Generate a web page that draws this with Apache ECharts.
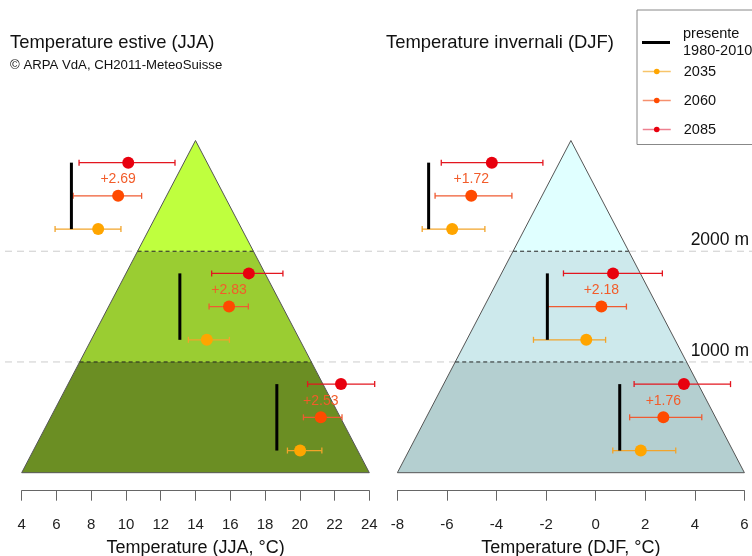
<!DOCTYPE html>
<html><head><meta charset="utf-8">
<script src="https://cdn.jsdelivr.net/npm/echarts@6/dist/echarts.min.js"></script>
<style>html,body{margin:0;padding:0;background:#fff}#c{width:752px;height:556px}</style>
</head><body><div id="c"></div>
<script>
// ---------- data (index 0 = 0-1000 m band, 1 = 1000-2000 m, 2 = 2000-3000 m) ----------
const bandBreaks = [0, 1000, 2000, 3000];
const refElevations = [1000, 2000];
const refLabels = ['1000 m', '2000 m'];
const elev2035 = [200, 1200, 2200];
const elev2060 = [500, 1500, 2500];
const elev2085 = [800, 1800, 2800];
const elevDelta = [650, 1650, 2650];

// Summer (JJA)
const axisJJA = [4, 24];
const apexJJA = 14;
const presenteJJA = [18.68, 13.10, 6.86];
const mean2035JJA = [20.02, 14.65, 8.40];
const lo2035JJA   = [19.29, 13.59, 5.92];
const hi2035JJA   = [21.27, 15.95, 9.71];
const mean2060JJA = [21.21, 15.93, 9.55];
const lo2060JJA   = [20.21, 14.78, 6.96];
const hi2060JJA   = [22.43, 17.04, 10.90];
const mean2085JJA = [22.37, 17.07, 10.13];
const lo2085JJA   = [20.45, 14.93, 7.30];
const hi2085JJA   = [24.31, 19.03, 12.82];
const deltaJJA = ['+2.53', '+2.83', '+2.69'];

// Winter (DJF)
const axisDJF = [-8, 6];
const apexDJF = -1;
const presenteDJF = [0.97, -1.95, -6.74];
const mean2035DJF = [1.82, -0.38, -5.79];
const lo2035DJF   = [0.69, -2.51, -7.00];
const hi2035DJF   = [3.23, 0.40, -4.47];
const mean2060DJF = [2.73, 0.23, -5.02];
const lo2060DJF   = [1.37, -1.93, -6.48];
const hi2060DJF   = [4.28, 1.24, -3.38];
const mean2085DJF = [3.56, 0.70, -4.19];
const lo2085DJF   = [1.55, -1.30, -6.23];
const hi2085DJF   = [5.44, 2.69, -2.13];
const deltaDJF = ['+1.76', '+2.18', '+1.72'];

const legendNames = ['presente', '2035', '2060', '2085'];

// ---------- styles ----------
const FONT = 'Liberation Sans, Arial, Helvetica, sans-serif';
const colorsJJA = ['#6b8e23', '#9acd32', '#bfff3e'];
const colorsDJF = ['#b4cfd0', '#cde9ec', '#e0ffff'];
const dot = {'2035': '#ffa500', '2060': '#ff4a00', '2085': '#e8000e'};
const bar = {'2035': '#f2a42a', '2060': '#ef5b32', '2085': '#e3161f'};
const legLine = {'2035': '#f7c46a', '2060': '#f6906e', '2085': '#ee8090'};

function mountain(gi, base, apex, colors) {
  return {
    type: 'custom', xAxisIndex: gi, yAxisIndex: gi, z: 2, silent: true, clip: false,
    data: [[0], [1], [2]],
    renderItem(params, api) {
      const i = params.dataIndex;
      const top = bandBreaks[bandBreaks.length - 1];
      const xl = e => base[0] + (apex - base[0]) * e / top;
      const xr = e => base[1] - (base[1] - apex) * e / top;
      const e0 = bandBreaks[i], e1 = bandBreaks[i + 1];
      const p = [[xl(e0), e0], [xr(e0), e0], [xr(e1), e1], [xl(e1), e1]].map(q => api.coord(q));
      const ch = [
        {type: 'polygon', shape: {points: p}, style: {fill: colors[i], stroke: null}},
        {type: 'line', shape: {x1: p[0][0], y1: p[0][1], x2: p[3][0], y2: p[3][1]}, style: {stroke: '#555', lineWidth: 1}},
        {type: 'line', shape: {x1: p[1][0], y1: p[1][1], x2: p[2][0], y2: p[2][1]}, style: {stroke: '#555', lineWidth: 1}}
      ];
      if (i === 0) {
        ch.push({type: 'line', shape: {x1: p[0][0], y1: p[0][1], x2: p[1][0], y2: p[1][1]}, style: {stroke: '#555', lineWidth: 1}});
      } else {
        ch.push({type: 'line', shape: {x1: p[0][0], y1: p[0][1], x2: p[1][0], y2: p[1][1]}, style: {stroke: '#222', lineWidth: 1, lineDash: [4, 3]}});
      }
      return {type: 'group', children: ch};
    }
  };
}

function errorBars(gi, key, mean, lo, hi, elev) {
  return {
    type: 'custom', xAxisIndex: gi, yAxisIndex: gi, z: 3, silent: true, clip: false,
    data: mean.map((m, i) => [m, elev[i], lo[i], hi[i]]),
    encode: {x: [0, 2, 3], y: 1},
    renderItem(params, api) {
      const e = api.value(1);
      const a = api.coord([api.value(2), e]), b = api.coord([api.value(3), e]);
      const h = 3, st = {stroke: bar[key], lineWidth: 1.3};
      return {type: 'group', children: [
        {type: 'line', shape: {x1: a[0], y1: a[1], x2: b[0], y2: b[1]}, style: st},
        {type: 'line', shape: {x1: a[0], y1: a[1] - h, x2: a[0], y2: a[1] + h}, style: st},
        {type: 'line', shape: {x1: b[0], y1: b[1] - h, x2: b[0], y2: b[1] + h}, style: st}
      ]};
    }
  };
}

function points(gi, key, mean, elev) {
  return {
    type: 'line', name: key, xAxisIndex: gi, yAxisIndex: gi, z: 5, clip: false,
    data: mean.map((m, i) => [m, elev[i]]),
    symbol: 'circle', symbolSize: 12, showSymbol: true, showAllSymbol: true,
    lineStyle: {opacity: 0, width: 0},
    itemStyle: {color: dot[key]}, silent: true
  };
}

function presente(gi, pres) {
  return {
    type: 'custom', name: 'presente', xAxisIndex: gi, yAxisIndex: gi, z: 4, silent: true, clip: false,
    data: pres.map((p, i) => [p, elev2035[i], elev2085[i]]),
    encode: {x: 0, y: [1, 2]},
    renderItem(params, api) {
      const a = api.coord([api.value(0), api.value(1)]), b = api.coord([api.value(0), api.value(2)]);
      return {type: 'line', shape: {x1: a[0], y1: a[1], x2: b[0], y2: b[1]}, style: {stroke: '#000', lineWidth: 3}};
    }
  };
}

function deltas(gi, mean, labels) {
  return {
    type: 'custom', xAxisIndex: gi, yAxisIndex: gi, z: 6, silent: true, clip: false,
    data: mean.map((m, i) => [m, elevDelta[i]]),
    renderItem(params, api) {
      const c = api.coord([api.value(0), api.value(1)]);
      return {type: 'text', x: c[0], y: c[1], style: {text: labels[params.dataIndex], align: 'center', verticalAlign: 'middle', fontSize: 14, fontFamily: FONT, fill: '#f25c2a'}};
    }
  };
}

const refLines = {
  type: 'custom', xAxisIndex: 0, yAxisIndex: 0, z: 1, silent: true, clip: false,
  data: refElevations.map(e => [axisJJA[0], e]),
  renderItem(params, api) {
    const c = api.coord([api.value(0), api.value(1)]);
    const w = api.getWidth();
    return {type: 'group', children: [
      {type: 'line', shape: {x1: 5, y1: c[1], x2: w, y2: c[1]}, style: {stroke: '#cccccc', lineWidth: 1, lineDash: [7, 5]}},
      {type: 'text', x: w - 3, y: c[1] - 11, style: {text: refLabels[params.dataIndex], align: 'right', verticalAlign: 'middle', fontSize: 17.5, fontFamily: FONT, fill: '#111'}}
    ]};
  }
};

function xAxis(gi, range, name) {
  return {
    gridIndex: gi, type: 'value', min: range[0], max: range[1], interval: 2, offset: 18, position: 'bottom',
    name: name, nameLocation: 'middle', nameGap: 48,
    nameTextStyle: {fontSize: 18, color: '#111', fontFamily: FONT},
    axisLine: {show: true, onZero: false, lineStyle: {color: '#666', width: 1}},
    axisTick: {show: true, length: 10, lineStyle: {color: '#666'}},
    axisLabel: {fontSize: 15, color: '#222', margin: 27, fontFamily: FONT},
    splitLine: {show: false}
  };
}

// legend: one framed component for "presente", separate ones for the scenarios
const legendBase = {
  orient: 'vertical', itemWidth: 28, itemHeight: 7, selectedMode: false,
  textStyle: {
    color: '#111', fontSize: 14.5, fontFamily: FONT,
    rich: {
      a: {fontSize: 14.5, lineHeight: 17, padding: [0, 0, 0, 8], color: '#111', fontFamily: FONT},
      b: {fontSize: 14.5, lineHeight: 16, padding: [0, 0, 0, 8], color: '#111', fontFamily: FONT}
    }
  },
  formatter: n => n === legendNames[0] ? '{a|presente}\n{a|1980-2010}' : '{b|' + n + '}'
};
const legendTops = [10, 64, 93, 122];
const legends = legendNames.map((n, i) => {
  const item = i === 0
    ? {name: n, icon: 'path://M0 0H28V3H0Z', itemStyle: {color: '#000'}}
    : {name: n, lineStyle: {color: legLine[n], width: 1.5, opacity: 1}, itemStyle: {color: dot[n]}};
  return Object.assign({}, legendBase, i === 0
    ? {left: 637, top: legendTops[i], padding: [16.5, 60, 86, 5], borderColor: '#888', borderWidth: 1}
    : {left: 642, top: legendTops[i], padding: 0},
    {data: [item]});
});

const chart = echarts.init(document.getElementById('c'), null, {renderer: 'canvas'});
chart.setOption({
  animation: false,
  backgroundColor: '#fff',
  textStyle: {fontFamily: FONT},
  title: [
    {text: 'Temperature estive (JJA)', left: 10, top: 34, padding: 0, textStyle: {fontSize: 18.4, fontWeight: 'normal', color: '#111', fontFamily: FONT}},
    {text: '© ARPA VdA, CH2011-MeteoSuisse', left: 10, top: 59, padding: 0, textStyle: {fontSize: 13.2, fontWeight: 'normal', color: '#111', fontFamily: FONT}},
    {text: 'Temperature invernali (DJF)', left: 386, top: 34, padding: 0, textStyle: {fontSize: 18.4, fontWeight: 'normal', color: '#111', fontFamily: FONT}}
  ],
  legend: legends,
  grid: [
    {left: 21.7, width: 347.6, top: 140.5, bottom: 83.3, outerBoundsMode: 'none', containLabel: false},
    {left: 397.4, width: 347, top: 140.5, bottom: 83.3, outerBoundsMode: 'none', containLabel: false}
  ],
  xAxis: [xAxis(0, axisJJA, 'Temperature (JJA, °C)'), xAxis(1, axisDJF, 'Temperature (DJF, °C)')],
  yAxis: [
    {gridIndex: 0, type: 'value', min: bandBreaks[0], max: bandBreaks[3], show: false},
    {gridIndex: 1, type: 'value', min: bandBreaks[0], max: bandBreaks[3], show: false}
  ],
  series: [
    refLines,
    mountain(0, axisJJA, apexJJA, colorsJJA),
    mountain(1, axisDJF, apexDJF, colorsDJF),
    errorBars(0, '2035', mean2035JJA, lo2035JJA, hi2035JJA, elev2035),
    errorBars(0, '2060', mean2060JJA, lo2060JJA, hi2060JJA, elev2060),
    errorBars(0, '2085', mean2085JJA, lo2085JJA, hi2085JJA, elev2085),
    errorBars(1, '2035', mean2035DJF, lo2035DJF, hi2035DJF, elev2035),
    errorBars(1, '2060', mean2060DJF, lo2060DJF, hi2060DJF, elev2060),
    errorBars(1, '2085', mean2085DJF, lo2085DJF, hi2085DJF, elev2085),
    presente(0, presenteJJA),
    presente(1, presenteDJF),
    points(0, '2035', mean2035JJA, elev2035),
    points(0, '2060', mean2060JJA, elev2060),
    points(0, '2085', mean2085JJA, elev2085),
    points(1, '2035', mean2035DJF, elev2035),
    points(1, '2060', mean2060DJF, elev2060),
    points(1, '2085', mean2085DJF, elev2085),
    deltas(0, mean2060JJA, deltaJJA),
    deltas(1, mean2060DJF, deltaDJF)
  ]
});
</script>
</body></html>
